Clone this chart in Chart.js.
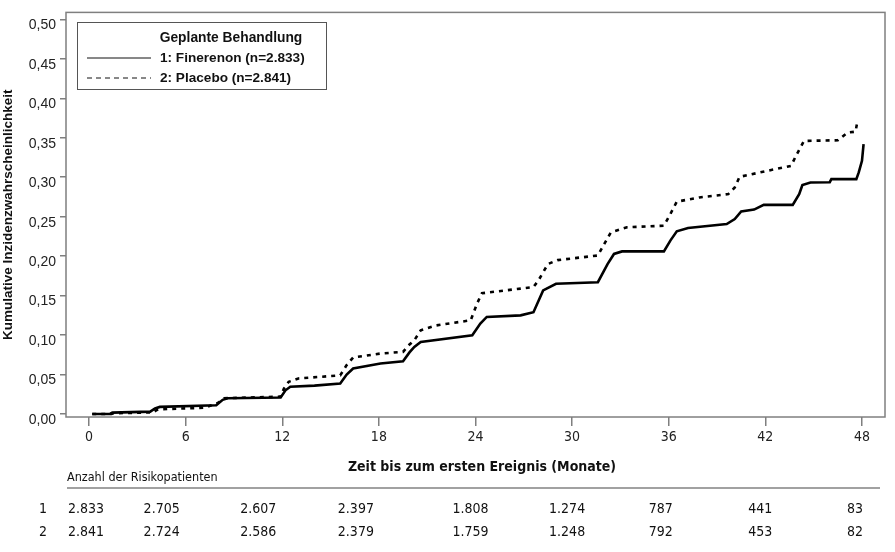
<!DOCTYPE html>
<html>
<head>
<meta charset="utf-8">
<script src="https://cdn.jsdelivr.net/npm/chart.js@4.4.1/dist/chart.umd.min.js"></script>
<style>
  html, body { margin: 0; padding: 0; background: #fff; }
  #wrap { width: 895px; height: 552px; }
</style>
</head>
<body>
<div id="wrap"><canvas id="chart" width="895" height="552"></canvas></div>
<script>
// Kumulative Inzidenz
const finerenonMonate = [0.2, 1.3, 1.45, 3.8, 4.1, 4.4, 7.9, 8.3, 8.6, 11.9, 12.2, 12.5, 14.0, 15.6, 16.0, 16.4, 18.1, 19.5, 19.9, 20.2, 20.6, 23.8, 24.3, 24.7, 26.8, 27.6, 28.2, 29.0, 31.6, 32.2, 32.6, 33.1, 35.7, 36.1, 36.5, 37.2, 39.6, 40.1, 40.5, 41.3, 41.9, 43.7, 44.1, 44.3, 44.8, 46.0, 46.1, 47.65, 47.8, 48.0, 48.1];
const finerenonInzidenz = [0, 0, 0.0017, 0.003, 0.007, 0.009, 0.011, 0.018, 0.020, 0.021, 0.030, 0.0345, 0.036, 0.0387, 0.050, 0.0577, 0.064, 0.0669, 0.078, 0.085, 0.0913, 0.0997, 0.1145, 0.123, 0.125, 0.129, 0.1566, 0.165, 0.167, 0.19, 0.2028, 0.206, 0.206, 0.2197, 0.2315, 0.2357, 0.2407, 0.247, 0.2567, 0.259, 0.265, 0.265, 0.2786, 0.290, 0.2933, 0.2937, 0.2976, 0.2976, 0.306, 0.3207, 0.342];

const placeboMonate = [0.2, 1.4, 1.5, 4.0, 4.2, 4.5, 7.2, 7.6, 8.0, 8.4, 11.9, 12.1, 12.4, 13.0, 15.6, 16.0, 16.4, 18.1, 19.5, 19.9, 20.2, 20.6, 21.5, 23.7, 24.1, 24.4, 27.6, 27.9, 28.5, 29.1, 31.6, 32.0, 32.4, 33.4, 35.7, 36.1, 36.5, 37.9, 39.7, 40.1, 40.4, 42.1, 43.6, 43.9, 44.4, 46.5, 47.1, 47.6, 47.7, 47.9];
const placeboInzidenz = [0, 0, 0.001, 0.002, 0.005, 0.006, 0.008, 0.011, 0.014, 0.020, 0.022, 0.032, 0.0408, 0.045, 0.049, 0.062, 0.0716, 0.0766, 0.0787, 0.088, 0.0934, 0.106, 0.112, 0.1187, 0.14, 0.153, 0.1608, 0.169, 0.19, 0.195, 0.2008, 0.2155, 0.230, 0.2365, 0.2386, 0.2533, 0.269, 0.2744, 0.2786, 0.287, 0.3005, 0.308, 0.3144, 0.327, 0.346, 0.3468, 0.3565, 0.3577, 0.369, 0.369];

const xTicks = [0, 6, 12, 18, 24, 30, 36, 42, 48];
const yTicks = [0, 0.05, 0.10, 0.15, 0.20, 0.25, 0.30, 0.35, 0.40, 0.45, 0.50];

// Anzahl der Risikopatienten je Zeitpunkt
const risikoFinerenon = ["2.833", "2.705", "2.607", "2.397", "1.808", "1.274", "787", "441", "83"];
const risikoPlacebo = ["2.841", "2.724", "2.586", "2.379", "1.759", "1.248", "792", "453", "82"];

const serienNamen = ["1: Finerenon (n=2.833)", "2: Placebo (n=2.841)"];

const FONT = "'Liberation Sans', Arial, sans-serif";
const NARROW = "'Liberation Sans Narrow', 'DejaVu Sans Condensed', Arial, sans-serif";
const GRAU = "#7f7f7f";

function toPoints(xs, ys) {
  return xs.map(function (x, i) { return { x: x, y: ys[i] }; });
}

// Rahmen, Legende und Tabelle unter der Achse
const extras = {
  id: "extras",
  afterDraw: function (chart) {
    const ctx = chart.ctx;
    const a = chart.chartArea;
    const xs = chart.scales.x;

    ctx.save();
    ctx.strokeStyle = GRAU;
    ctx.lineWidth = 1.5;
    ctx.strokeRect(a.left, a.top, a.right - a.left, a.bottom - a.top);

    // Legende
    ctx.strokeStyle = "#555";
    ctx.lineWidth = 1;
    ctx.strokeRect(77.5, 22.5, 249, 67);
    ctx.fillStyle = "#111";
    ctx.font = "bold 13.8px " + FONT;
    ctx.textBaseline = "middle";
    ctx.textAlign = "center";
    ctx.fillText("Geplante Behandlung", 231, 38);
    ctx.textAlign = "left";
    ctx.font = "bold 13.6px " + FONT;
    const rowsY = [58, 78];
    chart.data.datasets.forEach(function (ds, i) {
      ctx.beginPath();
      ctx.strokeStyle = "#111";
      ctx.lineWidth = 1;
      ctx.setLineDash(i === 0 ? [] : [5, 4]);
      ctx.moveTo(87, rowsY[i]);
      ctx.lineTo(151, rowsY[i]);
      ctx.stroke();
      ctx.setLineDash([]);
      ctx.fillText(ds.label, 160, rowsY[i]);
    });

    // Achsentitel unten
    ctx.textAlign = "center";
    ctx.font = "bold 14px " + NARROW;
    ctx.fillText("Zeit bis zum ersten Ereignis (Monate)", 482, 467);

    ctx.textAlign = "left";
    ctx.font = "12.5px " + NARROW;
    ctx.fillText("Anzahl der Risikopatienten", 67, 478);

    ctx.beginPath();
    ctx.strokeStyle = "#444";
    ctx.lineWidth = 1.2;
    ctx.moveTo(67, 488);
    ctx.lineTo(880, 488);
    ctx.stroke();

    // Risikotabelle
    const spaltenOffset = [-3, -24, -24, -23, -5, -5, -8, -5, -7];
    ctx.font = "14px " + NARROW;
    ctx.textAlign = "center";
    ctx.fillText("1", 43, 509);
    ctx.fillText("2", 43, 532);
    xTicks.forEach(function (t, i) {
      const px = xs.getPixelForValue(t) + spaltenOffset[i];
      ctx.fillText(risikoFinerenon[i], px, 509);
      ctx.fillText(risikoPlacebo[i], px, 532);
    });
    ctx.restore();
  }
};

new Chart(document.getElementById("chart"), {
  type: "line",
  data: {
    datasets: [
      {
        label: serienNamen[0],
        data: toPoints(finerenonMonate, finerenonInzidenz),
        borderColor: "#000",
        borderWidth: 2.6,
        pointRadius: 0,
        tension: 0,
        fill: false
      },
      {
        label: serienNamen[1],
        data: toPoints(placeboMonate, placeboInzidenz),
        borderColor: "#000",
        borderWidth: 2.6,
        borderDash: [4, 5],
        pointRadius: 0,
        tension: 0,
        fill: false
      }
    ]
  },
  options: {
    responsive: false,
    animation: false,
    layout: { padding: { top: 11, right: 10, left: 0, bottom: 0 } },
    plugins: {
      legend: { display: false },
      tooltip: { enabled: false }
    },
    scales: {
      x: {
        type: "linear",
        min: -1.43,
        max: 49.43,
        afterFit: function (s) { s.height = 135; },
        afterBuildTicks: function (s) {
          s.ticks = xTicks.map(function (v) { return { value: v }; });
        },
        border: { display: false },
        grid: { drawOnChartArea: false, color: GRAU, lineWidth: 1.5, tickLength: 9 },
        ticks: {
          color: "#222",
          padding: 3,
          maxRotation: 0,
          font: { family: NARROW, size: 14 },
          callback: function (v) { return String(v); }
        }
      },
      y: {
        min: -0.0038,
        max: 0.5088,
        afterFit: function (s) { s.width = 66; },
        afterBuildTicks: function (s) {
          s.ticks = yTicks.map(function (v) { return { value: v }; });
        },
        border: { display: false },
        grid: { drawOnChartArea: false, color: GRAU, lineWidth: 1.5, tickLength: 6 },
        title: {
          display: true,
          text: "Kumulative Inzidenzwahrscheinlichkeit",
          color: "#111",
          font: { family: FONT, size: 13.5, weight: "bold" },
          padding: { top: 0, bottom: 1 }
        },
        ticks: {
          color: "#222",
          padding: 4,
          labelOffset: 6,
          font: { family: FONT, size: 14 },
          callback: function (v) { return v.toFixed(2).replace(".", ","); }
        }
      }
    }
  },
  plugins: [extras]
});
</script>
</body>
</html>
